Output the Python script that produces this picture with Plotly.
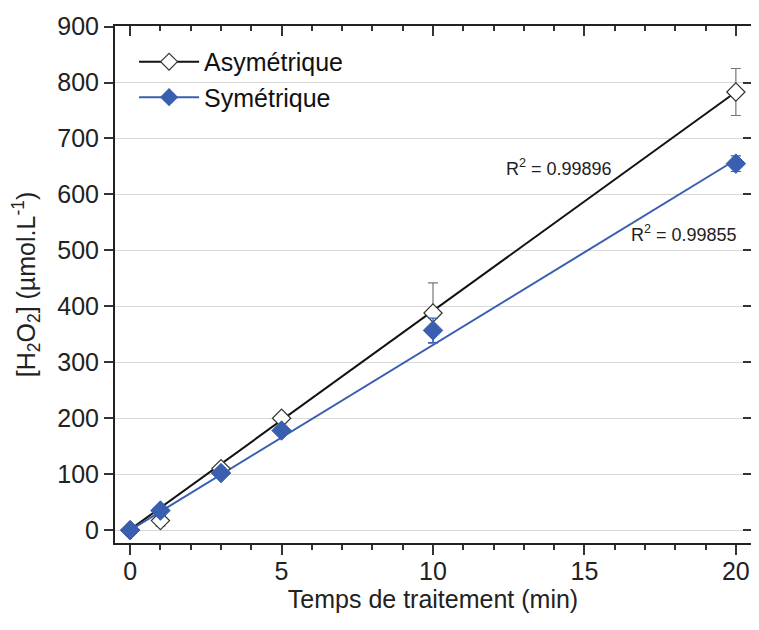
import plotly.graph_objects as go

# temps de traitement (min)
temps = [0, 1, 3, 5, 10, 20]

# [H2O2] (umol/L)
asym = [0, 17, 110, 200, 388, 783]
asym_err = [0, 10, 6, 8, 54, 42]
sym = [0, 35, 102, 178, 357, 655]
sym_err = [0, 6, 6, 6, 22, 14]

# regressions lineaires : pente, ordonnee a l'origine
asym_fit = [39.1, 1.0]
sym_fit = [33.1, 0.0]
r2_asym = "0.99896"
r2_sym = "0.99855"

black = "#111111"
blue = "#3a5fb0"

fit_x = [temps[0], temps[-1]]

fig = go.Figure()

# droites de regression
fig.add_trace(go.Scatter(x=fit_x, y=[asym_fit[0] * t + asym_fit[1] for t in fit_x], mode="lines",
                         line=dict(color=black, width=2), showlegend=False, hoverinfo="skip"))
fig.add_trace(go.Scatter(x=fit_x, y=[sym_fit[0] * t + sym_fit[1] for t in fit_x], mode="lines",
                         line=dict(color=blue, width=2), showlegend=False, hoverinfo="skip"))

# points experimentaux
fig.add_trace(go.Scatter(
    x=temps, y=asym, mode="markers", showlegend=False,
    marker=dict(symbol="diamond", size=14, color="white", line=dict(color="#333333", width=1.2)),
    error_y=dict(type="data", array=asym_err, color="#777777", thickness=1.2, width=5),
))
fig.add_trace(go.Scatter(
    x=temps, y=sym, mode="markers", showlegend=False,
    marker=dict(symbol="diamond", size=15, color=blue, line=dict(color=blue, width=1)),
    error_y=dict(type="data", array=sym_err, color=blue, thickness=1.2, width=5),
))

# entrees de legende
fig.add_trace(go.Scatter(x=[None], y=[None], mode="lines+markers", name="Asymétrique",
                         line=dict(color=black, width=2),
                         marker=dict(symbol="diamond", size=13, color="white",
                                     line=dict(color="#333333", width=1.2))))
fig.add_trace(go.Scatter(x=[None], y=[None], mode="lines+markers", name="Symétrique",
                         line=dict(color=blue, width=2),
                         marker=dict(symbol="diamond", size=14, color=blue)))

# trace invisible pour les axes miroirs (ticks interieurs)
fig.add_trace(go.Scatter(x=[None], y=[None], xaxis="x2", yaxis="y2", showlegend=False,
                         hoverinfo="skip"))

font = "Liberation Sans, Arial, sans-serif"

# la page ajoute une marge de 8 px autour : figure reduite pour tenir sans defilement
fig.update_layout(
    width=743, height=614,
    margin=dict(l=107, r=0, t=18, b=79),
    plot_bgcolor="white", paper_bgcolor="white",
    font=dict(family=font, color="#222222"),
    showlegend=True,
    legend=dict(x=0.03, y=0.975, xanchor="left", yanchor="top", bgcolor="rgba(0,0,0,0)",
                font=dict(size=25, color="#111111"), itemwidth=60, tracegroupgap=0),
    xaxis=dict(
        range=[-0.5, 20.5], tickvals=[0, 5, 10, 15, 20], ticks="outside", ticklen=10,
        tickwidth=1.5, tickcolor="#333333", ticklabelstandoff=-5, ticklabeloverflow="allow",
        minor=dict(dtick=1, ticks="outside", ticklen=5, tickwidth=1.5, tickcolor="#333333"),
        showline=True, linecolor="#222222", linewidth=2, mirror=True, showgrid=False,
        zeroline=False, tickfont=dict(size=25), automargin=False,
        title=dict(text="Temps de traitement (min)", font=dict(size=25), standoff=1),
    ),
    yaxis=dict(
        range=[-23, 901], tickvals=list(range(0, 901, 100)), ticks="outside", ticklen=9,
        tickwidth=1.5, tickcolor="#333333",
        showline=True, linecolor="#222222", linewidth=2, mirror=True,
        showgrid=True, gridcolor="#d8d8d8", gridwidth=1, zeroline=False,
        tickfont=dict(size=25), automargin=False,
        title=dict(text="[H<sub>2</sub>O<sub>2</sub>] (µmol.L<sup>-1</sup>)",
                   font=dict(size=25), standoff=15),
    ),
    xaxis2=dict(
        overlaying="x", side="top", range=[-0.5, 20.5], tickvals=[0, 5, 10, 15, 20],
        ticks="inside", ticklen=10, tickwidth=1.5, tickcolor="#333333",
        minor=dict(dtick=1, ticks="inside", ticklen=5, tickwidth=1.5, tickcolor="#333333"),
        showticklabels=False, showgrid=False, zeroline=False, automargin=False,
    ),
    yaxis2=dict(
        overlaying="y", side="right", range=[-23, 901], tickvals=list(range(0, 901, 100)),
        ticks="inside", ticklen=8, tickwidth=1.5, tickcolor="#333333",
        showticklabels=False, showgrid=False, zeroline=False, automargin=False,
    ),
    annotations=[
        dict(x=14.15, y=648, xref="x", yref="y",
             text="R<sup>2</sup> = " + r2_asym, showarrow=False,
             font=dict(size=18, color="#222222")),
        dict(x=18.3, y=531, xref="x", yref="y",
             text="R<sup>2</sup> = " + r2_sym, showarrow=False,
             font=dict(size=18, color="#222222")),
    ],
)

fig.write_html("out.html")
